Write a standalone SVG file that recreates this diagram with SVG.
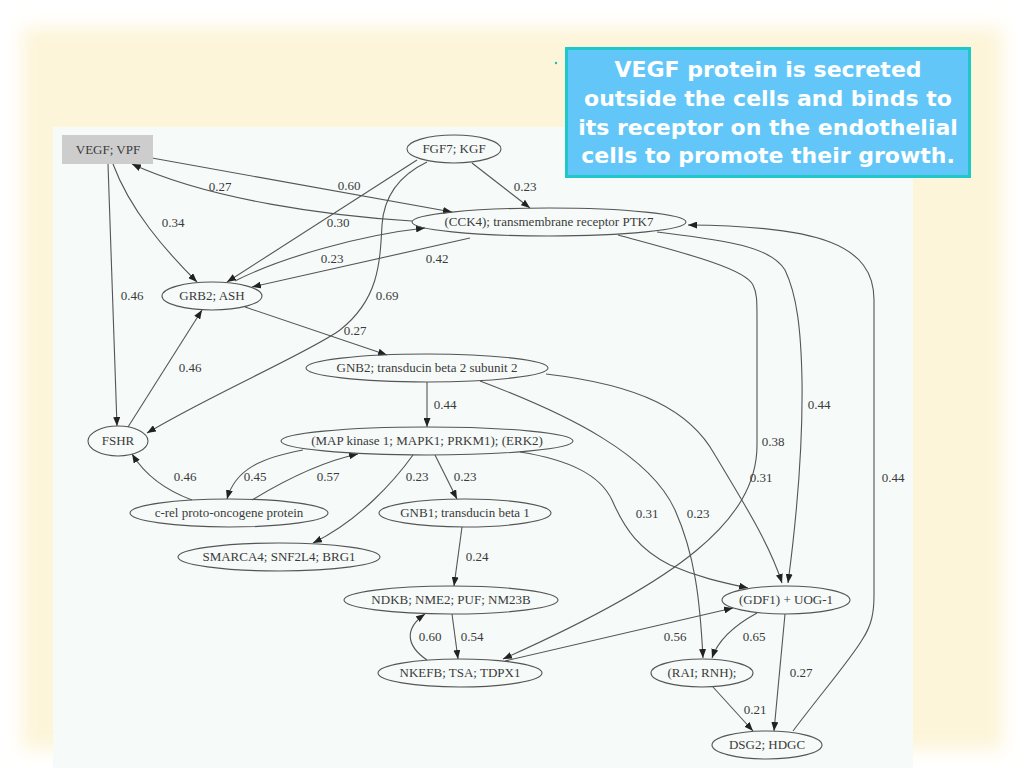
<svg xmlns="http://www.w3.org/2000/svg" width="1024" height="768" viewBox="0 0 1024 768">
<defs>
<filter id="glow" x="-5%" y="-5%" width="110%" height="110%"><feGaussianBlur stdDeviation="9"/></filter>
<marker id="ah" markerUnits="userSpaceOnUse" markerWidth="9" markerHeight="7" refX="9" refY="3.5" orient="auto"><path d="M0,0 L9,3.5 L0,7 z" fill="#222"/></marker>
<style>
.n{fill:none;stroke:#555;stroke-width:1.1}
.t{font-family:"Liberation Serif","Times New Roman",serif;font-size:13px;fill:#3a3a3a;text-anchor:middle}
.e{fill:none;stroke:#555;stroke-width:1.1;marker-end:url(#ah)}
.l{font-family:"Liberation Serif","Times New Roman",serif;font-size:13px;fill:#3a3a3a;text-anchor:middle}
.c{font-family:"DejaVu Sans",Verdana,sans-serif;font-weight:bold;font-size:22px;fill:#ffffff;text-anchor:middle}
</style>
</defs>
<rect width="1024" height="768" fill="#ffffff"/>
<rect x="22" y="27" width="981" height="723" fill="#fdf5d9" filter="url(#glow)"/>
<rect x="53" y="127" width="860" height="641" fill="#f6faf8"/>

<g id="connectors">
<path class="e" d="M152,158 L452,212"/>
<path class="e" d="M412,221 C330,216 210,200 132,164"/>
<path class="e" d="M108,164 L117,426"/>
<path class="e" d="M113,164 C130,210 165,250 197,282"/>
<path class="e" d="M417,160 L227,282"/>
<path class="e" d="M427,162 C400,175 384,195 382,225 C380,265 378,300 340,330 C310,352 210,395 147,433"/>
<path class="e" d="M472,163 L530,208"/>
<path class="e" d="M235,281 C280,258 360,235 425,228"/>
<path class="e" d="M470,238 L252,287"/>
<path class="e" d="M245,307 L387,355"/>
<path class="e" d="M128,427 L202,310"/>
<path class="e" d="M427,382 L427,427"/>
<path class="e" d="M303,450 C260,458 235,470 227,499"/>
<path class="e" d="M252,500 C285,480 320,462 358,454"/>
<path class="e" d="M192,500 C165,490 145,475 132,454"/>
<path class="e" d="M413,455 C395,480 360,520 313,543"/>
<path class="e" d="M435,455 L457,499"/>
<path class="e" d="M462,527 L454,586"/>
<path class="e" d="M452,614 L458,659"/>
<path class="e" d="M427,660 C405,645 405,628 425,614"/>
<path class="e" d="M505,661 L733,608"/>
<path class="e" d="M618,235 C680,252 745,268 753,285 C757,293 757,300 757,320 L757,445 C757,520 680,580 503,659"/>
<path class="e" d="M657,232 C720,240 770,245 785,270 C797,295 801,330 802,380 C803,450 795,530 788,583"/>
<path class="e" d="M793,731 C820,695 850,660 862,640 C872,625 874,612 874,595 L874,300 C874,245 820,226 688,225"/>
<path class="e" d="M546,374 C640,385 690,410 715,455 C745,505 770,545 782,583"/>
<path class="e" d="M480,381 C570,415 650,455 675,510 C695,555 700,600 703,658"/>
<path class="e" d="M520,452 C570,460 600,475 612,500 C625,530 640,550 670,565 C700,578 725,583 748,588"/>
<path class="e" d="M757,613 C735,625 718,640 712,658"/>
<path class="e" d="M785,614 L774,731"/>
<path class="e" d="M713,687 L753,731"/>
<text class="l" x="220" y="191">0.27</text>
<text class="l" x="338" y="227">0.30</text>
<text class="l" x="132" y="300">0.46</text>
<text class="l" x="173" y="227">0.34</text>
<text class="l" x="349" y="190">0.60</text>
<text class="l" x="387" y="300">0.69</text>
<text class="l" x="525" y="191">0.23</text>
<text class="l" x="332" y="263">0.23</text>
<text class="l" x="437" y="263">0.42</text>
<text class="l" x="355" y="335">0.27</text>
<text class="l" x="190" y="372">0.46</text>
<text class="l" x="445" y="409">0.44</text>
<text class="l" x="255" y="481">0.45</text>
<text class="l" x="328" y="481">0.57</text>
<text class="l" x="185" y="481">0.46</text>
<text class="l" x="417" y="481">0.23</text>
<text class="l" x="465" y="481">0.23</text>
<text class="l" x="477" y="561">0.24</text>
<text class="l" x="472" y="641">0.54</text>
<text class="l" x="430" y="641">0.60</text>
<text class="l" x="675" y="641">0.56</text>
<text class="l" x="773" y="446">0.38</text>
<text class="l" x="761" y="482">0.31</text>
<text class="l" x="819" y="409">0.44</text>
<text class="l" x="893" y="482">0.44</text>
<text class="l" x="647" y="518">0.31</text>
<text class="l" x="698" y="518">0.23</text>
<text class="l" x="754" y="641">0.65</text>
<text class="l" x="801" y="677">0.27</text>
<text class="l" x="755" y="714">0.21</text>
</g>

<g id="n-vegf"><rect x="62" y="135" width="91" height="29" fill="#cdcdcd"/><text class="t" x="108" y="154">VEGF; VPF</text></g>
<g id="n-fgf7"><ellipse class="n" cx="454" cy="149" rx="47" ry="14"/><text class="t" x="454" y="153">FGF7; KGF</text></g>
<g id="n-cck4"><ellipse class="n" cx="549" cy="222" rx="137" ry="14"/><text class="t" x="549" y="226">(CCK4); transmembrane receptor PTK7</text></g>
<g id="n-grb2"><ellipse class="n" cx="212" cy="296" rx="50" ry="14"/><text class="t" x="212" y="300">GRB2; ASH</text></g>
<g id="n-gnb2"><ellipse class="n" cx="427" cy="368" rx="121" ry="14"/><text class="t" x="427" y="372">GNB2; transducin beta 2 subunit 2</text></g>
<g id="n-fshr"><ellipse class="n" cx="118" cy="441" rx="30" ry="15"/><text class="t" x="118" y="445">FSHR</text></g>
<g id="n-map"><ellipse class="n" cx="427" cy="441" rx="146" ry="14"/><text class="t" x="427" y="445">(MAP kinase 1; MAPK1; PRKM1); (ERK2)</text></g>
<g id="n-crel"><ellipse class="n" cx="229" cy="513" rx="99" ry="14"/><text class="t" x="229" y="517">c-rel proto-oncogene protein</text></g>
<g id="n-gnb1"><ellipse class="n" cx="465" cy="513" rx="86" ry="14"/><text class="t" x="465" y="517">GNB1; transducin beta 1</text></g>
<g id="n-smarca4"><ellipse class="n" cx="279" cy="557" rx="101" ry="14"/><text class="t" x="279" y="561">SMARCA4; SNF2L4; BRG1</text></g>
<g id="n-ndkb"><ellipse class="n" cx="451" cy="600" rx="107" ry="14"/><text class="t" x="451" y="604">NDKB; NME2; PUF; NM23B</text></g>
<g id="n-gdf1"><ellipse class="n" cx="786" cy="600" rx="64" ry="14"/><text class="t" x="786" y="604">(GDF1) + UOG-1</text></g>
<g id="n-nkefb"><ellipse class="n" cx="460" cy="673" rx="82" ry="14"/><text class="t" x="460" y="677">NKEFB; TSA; TDPX1</text></g>
<g id="n-rai"><ellipse class="n" cx="702" cy="673" rx="51" ry="14"/><text class="t" x="702" y="677">(RAI; RNH);</text></g>
<g id="n-dsg2"><ellipse class="n" cx="767" cy="745" rx="55" ry="14"/><text class="t" x="767" y="749">DSG2; HDGC</text></g>

<g id="callout">
<circle cx="556" cy="63" r="1.2" fill="#22b8b8"/>
<rect x="566.5" y="48.5" width="403" height="128" fill="#62c7f8" stroke="#1fc8c8" stroke-width="3"/>
<text class="c" x="768" y="77">VEGF protein is secreted</text>
<text class="c" x="768" y="106">outside the cells and binds to</text>
<text class="c" x="768" y="135">its receptor on the endothelial</text>
<text class="c" x="768" y="163">cells to promote their growth.</text>
</g>
</svg>
